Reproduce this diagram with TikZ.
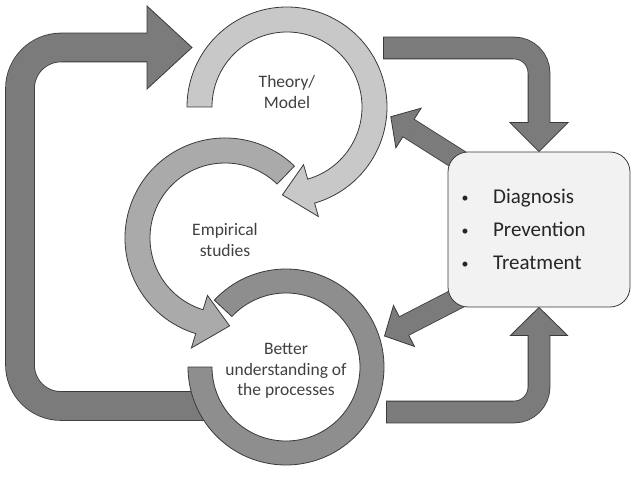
\documentclass[tikz,border=0pt]{standalone}
\usepackage{fontspec}
\setmainfont{Carlito}
\usetikzlibrary{calc,positioning}

\definecolor{rimgrey}{HTML}{3A3A3A}
\definecolor{conngrey}{HTML}{7B7B7B}
\definecolor{theorygrey}{HTML}{C8C8C8}
\definecolor{empgrey}{HTML}{AAAAAA}
\definecolor{bettergrey}{HTML}{8E8E8E}
\definecolor{boxgrey}{HTML}{F2F2F2}
\definecolor{textgrey}{HTML}{404040}

\pgfdeclarelayer{background}
\pgfsetlayers{background,main}

% arrow head: base, tip, shaft half width, head half width
\newcommand{\blockhead}[4]{%
  \fill[conngrey] ($(#1)!#4!90:(#2)$) -- (#2) -- ($(#1)!#4!-90:(#2)$) -- cycle;
  \draw[rimline] ($(#1)!#3!90:(#2)$) -- ($(#1)!#4!90:(#2)$) -- (#2)
    -- ($(#1)!#4!-90:(#2)$) -- ($(#1)!#3!-90:(#2)$);}
\newcommand{\carebullet}{\makebox[33pt][l]{\hspace{1.5pt}\raisebox{1.5pt}{\fontsize{14}{14}\selectfont\textbullet}}}

\begin{document}
\begin{tikzpicture}[x=1pt,y=1pt,
font=\fontsize{17.5}{20.5}\selectfont,
rimline/.style={draw=rimgrey, line width=0.8pt},
shaft/.style={draw=rimgrey, line width=0.8pt, double=conngrey, double distance=21pt},
ringlabel/.style={text=textgrey, align=center}]
\useasboundingbox (0,0) rectangle (638,483);

\coordinate (theory) at (287,376);
\coordinate (empirical) at (225,245);
\coordinate (better) at (286,116);

\node[rimline, fill=boxgrey, rounded corners=20pt, minimum width=182pt,
  minimum height=155pt] (care) at (539,253.5) {};
\node[anchor=west, align=left, font=\fontsize{21}{33}\selectfont, text=black!85]
  (caretext) at ([xshift=9pt]care.west)
  {\carebullet Diagnosis\\
   \carebullet Prevention\\
   \carebullet Treatment};

\begin{pgfonlayer}{background}
% big loop on the left
\coordinate (lefttail) at (205,77);
\coordinate (leftbase) at (147,435.5);
\coordinate (lefttip) at (192,435.5);
\draw[shaft, double distance=28pt, rounded corners=41pt]
  (lefttail) -- (20,77) -- (20,435.5) -- (leftbase);
\blockhead{leftbase}{lefttip}{14pt}{41.5pt}

% top right into the box
\coordinate (trtail) at (383,435);
\coordinate (trbase) at ([yshift=29pt]care.north);
\draw[shaft, rounded corners=25pt] (trtail) -- (care.north |- trtail) -- (trbase);
\draw[rimline] ([yshift=-10.5pt]trtail) -- ([yshift=10.5pt]trtail);
\blockhead{trbase}{care.north}{10.5pt}{29pt}

% bottom right into the box
\coordinate (brtail) at (386,71);
\coordinate (brbase) at ([yshift=-28pt]care.south);
\draw[shaft, rounded corners=25pt] (brtail) -- (care.south |- brtail) -- (brbase);
\draw[rimline] ([yshift=-10.5pt]brtail) -- ([yshift=10.5pt]brtail);
\blockhead{brbase}{care.south}{10.5pt}{28.5pt}

% box back to the rings
\coordinate (ultail) at ([shift={(14,-10)}]care.north west);
\coordinate (ulbase) at (408.5,355);
\coordinate (ultip) at (390.8,366.3);
\draw[shaft, double distance=20pt] (ultail) -- (ulbase);
\blockhead{ulbase}{ultip}{10pt}{23.5pt}

\coordinate (lltail) at ([shift={(12,10)}]care.south west);
\coordinate (llbase) at (404,157);
\coordinate (lltip) at (384.5,147);
\draw[shaft, double distance=20pt] (lltail) -- (llbase);
\blockhead{llbase}{lltip}{10pt}{23pt}
\end{pgfonlayer}

% rings
\begin{scope}[shift={(better)}]
\filldraw[rimline, fill=bettergrey] (137:98) arc[start angle=137, end angle=-180, radius=98]
  -- (180:74) arc[start angle=-180, end angle=137, radius=74] -- cycle;
\end{scope}
\begin{scope}[shift={(empirical)}]
\filldraw[rimline, fill=empgrey] (46:75) arc[start angle=46, end angle=253, radius=75]
  -- (253:60) -- (273:88) -- (253:115) -- (253:100)
  arc[start angle=253, end angle=46, radius=100] -- cycle;
\end{scope}
\begin{scope}[shift={(theory)}]
\filldraw[rimline, fill=theorygrey] (180:100) arc[start angle=180, end angle=-74, radius=100]
  -- (-74:114) -- (-93:88) -- (-74:60) -- (-74:75)
  arc[start angle=-74, end angle=180, radius=75] -- cycle;
\end{scope}

\node[ringlabel] (theorytext) at ([yshift=15pt]theory) {Theory/\\Model};
\node[ringlabel] (empiricaltext) at ([yshift=-2pt]empirical) {Empirical\\studies};
\node[ringlabel] (bettertext) at ([yshift=-4pt]better) {Better\\understanding of\\the processes};
\end{tikzpicture}
\end{document}
